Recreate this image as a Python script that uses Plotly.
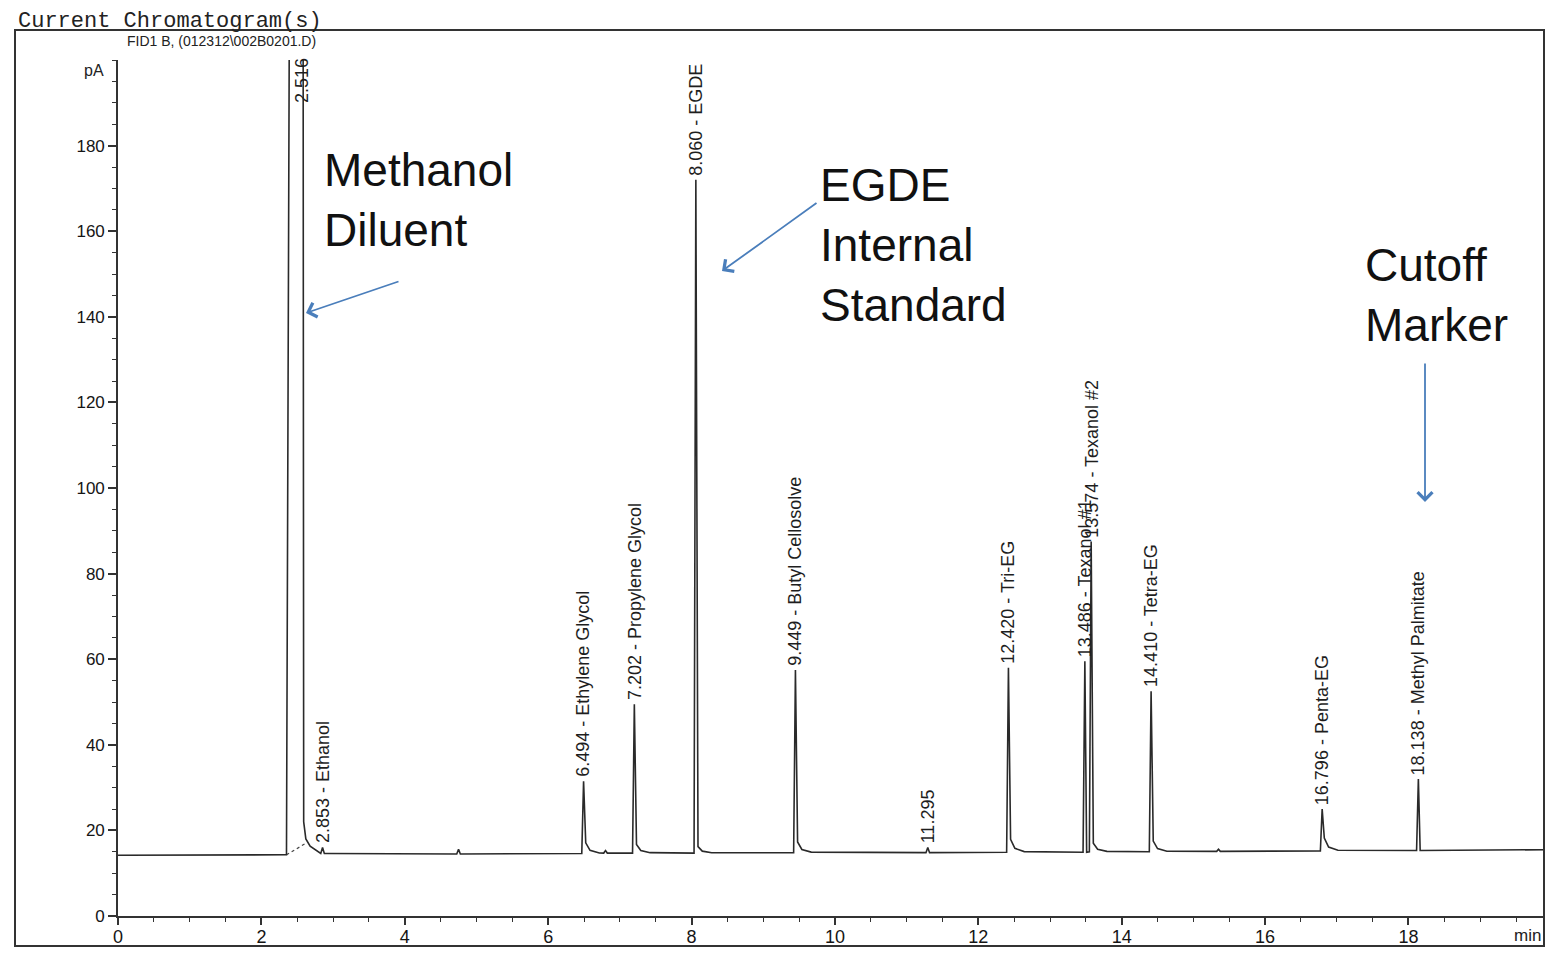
import plotly.graph_objects as go

# ---------------- data ----------------
start_point = (0.0, 14.2)
end_point = (19.96, 15.5)

# methanol solvent peak (off-scale), explicit outline points
methanol_t = [2.35, 2.40, 2.58, 2.59, 2.62, 2.68, 2.78, 2.92]
methanol_y = [14.3, 260.0, 260.0, 22.0, 18.0, 16.3, 15.2, 14.6]

# integration baseline drawn under the solvent tail
integration_t = [2.35, 2.62]
integration_y = [14.3, 17.0]

# integrated peaks
peak_times = [2.853, 4.75, 6.494, 6.80, 7.202, 8.060, 9.449, 11.295, 12.420,
              13.486, 13.574, 14.410, 15.35, 16.796, 18.138]
peak_heights = [16.0, 15.6, 31.5, 15.3, 49.5, 172.0, 57.5, 16.0, 58.0,
                59.5, 87.5, 52.5, 15.6, 25.0, 32.0]
peak_base = [14.6, 14.5, 14.6, 14.7, 14.7, 14.7, 14.8, 14.8, 14.9,
             14.9, 15.0, 15.0, 15.1, 15.2, 15.3]
peak_tail = [0.0, 0.0, 2.5, 0.0, 2.0, 1.5, 2.5, 0.0, 3.0,
             0.0, 2.0, 2.5, 0.0, 3.0, 0.0]
peak_labels = ["2.853 - Ethanol", "", "6.494 - Ethylene Glycol", "",
               "7.202 - Propylene Glycol", "8.060 - EGDE",
               "9.449 - Butyl Cellosolve", "11.295", "12.420 - Tri-EG",
               "13.486 - Texanol #1", "13.574 - Texanol #2",
               "14.410 - Tetra-EG", "", "16.796 - Penta-EG",
               "18.138 - Methyl Palmitate"]
methanol_label = "2.516"
methanol_label_time = 2.516
methanol_label_level = 189.5

y_ticks = [0, 20, 40, 60, 80, 100, 120, 140, 160, 180]
x_ticks = [0, 2, 4, 6, 8, 10, 12, 14, 16, 18]

# ---------------- build the trace ----------------
pts = [start_point, (methanol_t[0] - 0.01, methanol_y[0])]
pts += list(zip(methanol_t, methanol_y))
for t, h, b, tl in zip(peak_times, peak_heights, peak_base, peak_tail):
    wl = 0.025
    pts.append((t - wl, b))
    pts.append((t, h))
    if tl > 0:
        pts.append((t + 0.03, b + tl))
        pts.append((t + 0.09, b + tl * 0.3))
        pts.append((t + 0.22, b + tl * 0.05))
    else:
        pts.append((t + 0.025, b))
pts.append(end_point)
pts.sort(key=lambda p: p[0])
xs = [p[0] for p in pts]
ys = [p[1] for p in pts]

fig = go.Figure()
fig.add_trace(go.Scatter(x=integration_t, y=integration_y, mode="lines",
                         line=dict(color="#444", width=1.2, dash="dot"),
                         hoverinfo="skip", showlegend=False))
fig.add_trace(go.Scatter(x=xs, y=ys, mode="lines",
                         line=dict(color="#2a2a2a", width=1.6),
                         hoverinfo="skip", showlegend=False))

# page offset of the plot div (browser body margin)
OFF = 8
FW, FH = 1545, 944
L, R, T, B = 118 - OFF, 1549 - OFF, 60 - OFF, 916 - OFF

def PX(px):  # page pixel -> paper
    return (px - OFF - L) / (R - L)

def PY(py):
    return (B - (py - OFF)) / (B - T)

ann = []
lab_font = dict(family="Liberation Sans, Arial", size=18, color="#1e1e1e")
for t, h, txt in zip(peak_times, peak_heights, peak_labels):
    if not txt:
        continue
    ann.append(dict(x=t, y=h, xref="x", yref="y", text=txt, showarrow=False,
                    textangle=-90, xanchor="center", yanchor="bottom",
                    yshift=2, font=lab_font))
ann.append(dict(x=methanol_label_time + 0.06, y=methanol_label_level, xref="x", yref="y",
                text=methanol_label, showarrow=False, textangle=-90,
                xanchor="center", yanchor="bottom", font=lab_font))

big = dict(family="Liberation Sans, Arial", size=46, color="#111111")
ann.append(dict(x=PX(322), y=PY(142), xref="paper", yref="paper",
                text="Methanol<br>Diluent", showarrow=False, align="left",
                xanchor="left", yanchor="top", font=big))
ann.append(dict(x=PX(818), y=PY(157), xref="paper", yref="paper",
                text="EGDE<br>Internal<br>Standard", showarrow=False, align="left",
                xanchor="left", yanchor="top", font=big))
ann.append(dict(x=PX(1363), y=PY(237), xref="paper", yref="paper",
                text="Cutoff<br>Marker", showarrow=False, align="left",
                xanchor="left", yanchor="top", font=big))

arrow_col = "#4A7EBB"
for hx, hy, ax, ay in [(306, 313, 94, -32), (722, 271, 96, -69), (1425, 502, 0, -140)]:
    ann.append(dict(x=PX(hx), y=PY(hy), xref="paper", yref="paper", text="",
                    showarrow=True, ax=ax, ay=ay, arrowhead=4, arrowsize=1.6,
                    arrowwidth=1.8, arrowcolor=arrow_col, standoff=0))

ann.append(dict(x=PX(17), y=PY(OFF), xref="paper", yref="paper",
                text="Current Chromatogram(s)", showarrow=False, borderpad=0,
                xanchor="left", yanchor="top",
                font=dict(family="Liberation Mono, Courier New", size=22, color="#222")))
ann.append(dict(x=PX(126), y=PY(41), xref="paper", yref="paper",
                text="FID1 B, (012312\\002B0201.D)", showarrow=False, borderpad=0,
                xanchor="left", yanchor="middle",
                font=dict(family="Liberation Sans, Arial", size=14, color="#222")))
ann.append(dict(x=PX(106), y=PY(70), xref="paper", yref="paper", text="pA",
                showarrow=False, xanchor="right", yanchor="middle",
                font=dict(family="Liberation Sans, Arial", size=16, color="#222")))
ann.append(dict(x=PX(1543), y=PY(935), xref="paper", yref="paper", text="min",
                showarrow=False, xanchor="right", yanchor="middle",
                font=dict(family="Liberation Sans, Arial", size=17, color="#222")))

shapes = [
    dict(type="rect", xref="paper", yref="paper", x0=PX(15), x1=PX(1544),
         y0=PY(946), y1=PY(30), line=dict(color="#333", width=2)),
]

tick_font = dict(family="Liberation Sans, Arial", size=18, color="#151515")
fig.update_layout(
    width=FW, height=FH,
    margin=dict(l=L, r=FW - R, t=T, b=FH - B),
    paper_bgcolor="white", plot_bgcolor="white",
    annotations=ann, shapes=shapes, showlegend=False,
    font=dict(family="Liberation Sans, Arial", color="#222"),
    xaxis=dict(range=[0, 19.96], tickvals=x_ticks, ticktext=[str(v) for v in x_ticks],
               automargin=False, ticklabelstandoff=-4,
               showgrid=False, zeroline=False, showline=True, linecolor="#333",
               linewidth=1.8, ticks="outside", ticklen=7, tickwidth=1.6,
               tickcolor="#333", tickfont=tick_font,
               minor=dict(dtick=0.5, ticks="outside", ticklen=4, tickcolor="#333",
                          tickwidth=1.3)),
    yaxis=dict(range=[0, 200], tickvals=y_ticks, ticktext=[str(v) for v in y_ticks],
               automargin=False,
               showgrid=False, zeroline=False, showline=True, linecolor="#333",
               linewidth=1.6, ticks="outside", ticklen=8, tickwidth=1.5,
               tickcolor="#333", tickfont=dict(family="Liberation Sans, Arial", size=17,
                                               color="#151515"),
               minor=dict(dtick=5, ticks="outside", ticklen=4, tickcolor="#333",
                          tickwidth=1.2)),
)

fig.write_html("out.html")
